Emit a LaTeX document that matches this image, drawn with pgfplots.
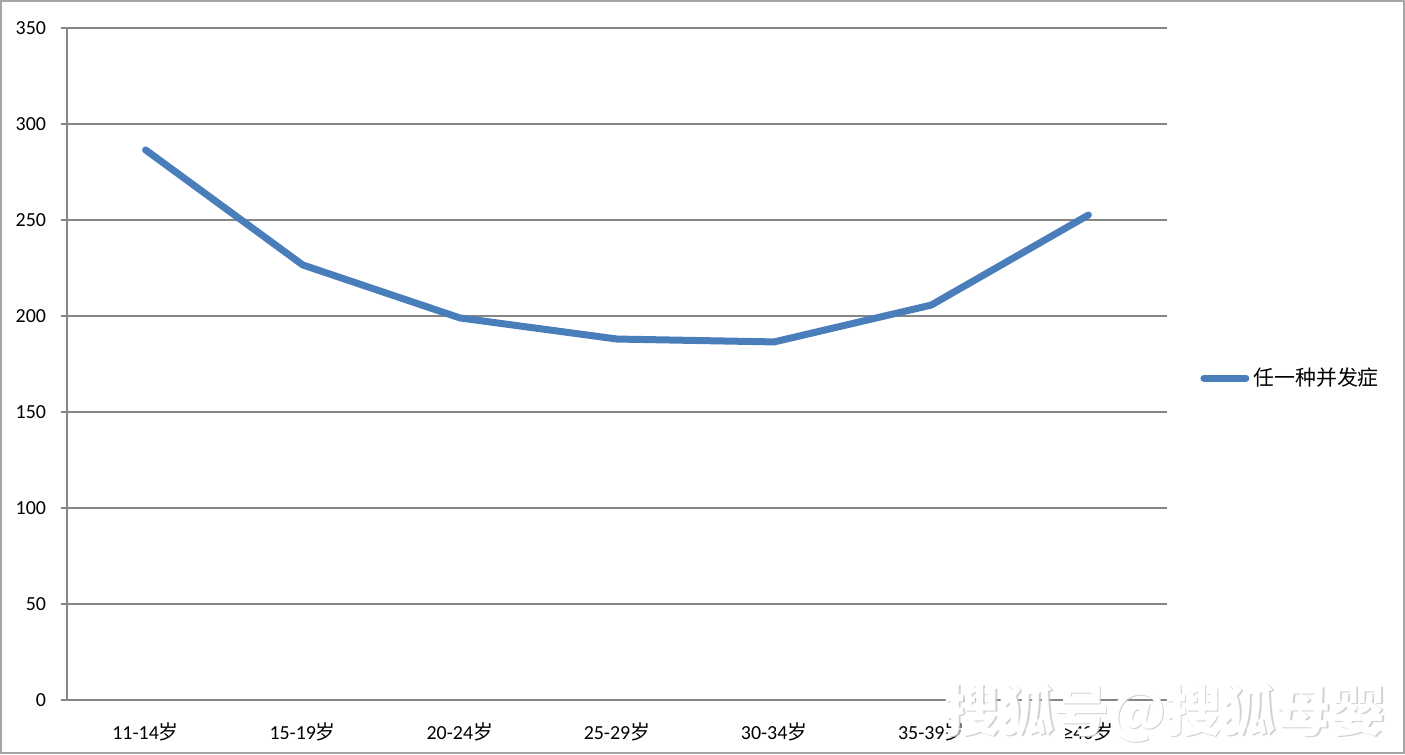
\documentclass[border=0pt]{standalone}
\usepackage{fontspec}
\setmainfont{Carlito}
\newfontfamily\cjk{Noto Sans CJK SC}
\usepackage{pgfplots}
\pgfplotsset{compat=1.18}
\definecolor{serblue}{RGB}{74,126,187}
\definecolor{gridgray}{RGB}{134,134,134}
\begin{document}
\begin{tikzpicture}
\useasboundingbox (-33.5bp,-27.5bp) rectangle (669bp,350bp);
\draw[gray!70, line width=1bp] (-33bp,-26.5bp) rectangle (668.5bp,349.5bp);
\begin{axis}[
  at={(0,0)}, anchor=south west,
  scale only axis, width=550bp, height=336bp,
  xmin=-0.5, xmax=6.5, ymin=0, ymax=350,
  ytick={0,50,...,350},
  xtick={0,...,6},
  xticklabels={{11-14{\cjk 岁}},{15-19{\cjk 岁}},{20-24{\cjk 岁}},{25-29{\cjk 岁}},{30-34{\cjk 岁}},{35-39{\cjk 岁}},{≥40{\cjk 岁}}},
  extra x ticks={-0.5,0.5,...,6.5},
  extra x tick labels={},
  extra x tick style={major tick length=3bp, tick style={gridgray, line width=0.6bp}},
  major x tick style={draw=none},
  axis lines=left,
  axis line style={gridgray, line width=0.6bp, -},
  ymajorgrids, grid style={gridgray, line width=0.6bp},
  tick align=outside,
  ytick style={gridgray, line width=0.6bp},
  major tick length=3bp,
  yticklabel style={font=\fontsize{10}{12}\selectfont, xshift=-4bp},
  xticklabel style={font=\fontsize{10}{12}\selectfont, yshift=-5bp},
  /pgf/number format/assume math mode=true,
  legend style={at={(rel axis cs:1.030,0.479)}, anchor=west, draw=none, fill=none,
    font=\cjk\fontsize{10.5}{12}\selectfont, inner sep=0pt},
  legend image code/.code={\draw[#1, line cap=round] (0bp,0bp) -- (21bp,0bp);},
  clip=false,
]
\addplot[serblue, line width=3.5bp, line join=round, line cap=round] coordinates {
(0,286.5) (1,226.6) (2,199) (3,188) (4,186.5) (5,205.7) (6,252.6)};
\addlegendentry{任一种并发症}
\end{axis}
\node[text=gray!45, opacity=0.8, font=\cjk\bfseries\fontsize{27.5}{30}\selectfont, anchor=center] at (549bp+0.8bp,-6.5bp-0.8bp) {搜狐号@搜狐母婴};
\node[text=white, font=\cjk\bfseries\fontsize{27.5}{30}\selectfont, anchor=center] at (549bp,-6.5bp) {搜狐号@搜狐母婴};
\end{tikzpicture}
\end{document}
